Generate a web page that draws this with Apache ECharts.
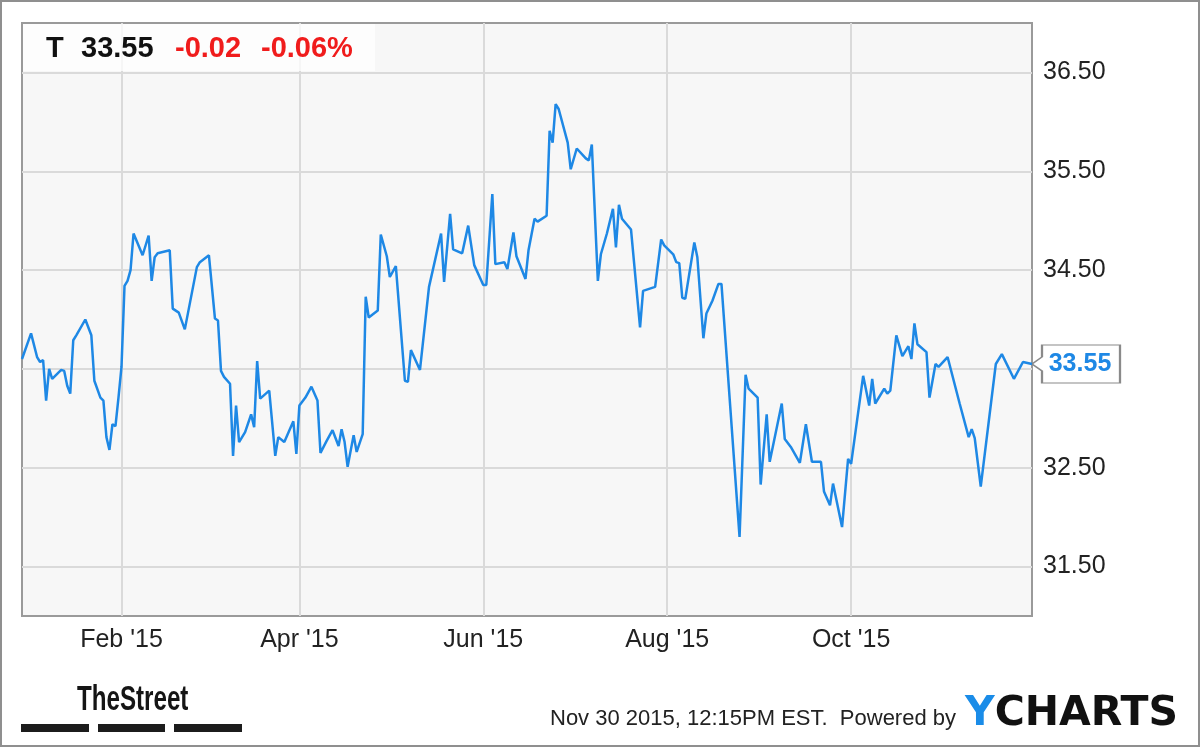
<!DOCTYPE html>
<html><head><meta charset="utf-8">
<script src="https://cdn.jsdelivr.net/npm/echarts@6/dist/echarts.min.js"></script>
<style>html,body{margin:0;padding:0;background:#fff}#c{width:1200px;height:747px}</style>
</head><body><div id="c"></div>
<script>
// ---- data ----
const dates = [
'2014-12-30','2015-01-02','2015-01-04','2015-01-05','2015-01-06','2015-01-07','2015-01-08','2015-01-09','2015-01-10','2015-01-12',
'2015-01-13','2015-01-14','2015-01-15','2015-01-16','2015-01-17','2015-01-20','2015-01-22','2015-01-23','2015-01-25','2015-01-26',
'2015-01-27','2015-01-28','2015-01-29','2015-01-30','2015-01-31','2015-02-01','2015-02-02','2015-02-03','2015-02-04','2015-02-05',
'2015-02-08','2015-02-10','2015-02-11','2015-02-12','2015-02-13','2015-02-17','2015-02-18','2015-02-20','2015-02-22','2015-02-26',
'2015-02-27','2015-03-02','2015-03-04','2015-03-05','2015-03-06','2015-03-07','2015-03-09','2015-03-10','2015-03-11','2015-03-12',
'2015-03-14','2015-03-16','2015-03-17','2015-03-18','2015-03-19','2015-03-22','2015-03-24','2015-03-25','2015-03-27','2015-03-30',
'2015-03-31','2015-04-01','2015-04-03','2015-04-05','2015-04-07','2015-04-08','2015-04-10','2015-04-12','2015-04-14','2015-04-15',
'2015-04-16','2015-04-17','2015-04-19','2015-04-20','2015-04-22','2015-04-23','2015-04-24','2015-04-27','2015-04-28','2015-04-30',
'2015-05-01','2015-05-03','2015-05-06','2015-05-07','2015-05-08','2015-05-11','2015-05-14','2015-05-18','2015-05-19','2015-05-21',
'2015-05-22','2015-05-25','2015-05-27','2015-05-29','2015-06-01','2015-06-02','2015-06-04','2015-06-05','2015-06-08','2015-06-09',
'2015-06-11','2015-06-12','2015-06-15','2015-06-16','2015-06-18','2015-06-19','2015-06-22','2015-06-23','2015-06-24','2015-06-25',
'2015-06-26','2015-06-29','2015-06-30','2015-07-02','2015-07-05','2015-07-06','2015-07-07','2015-07-09','2015-07-10','2015-07-12',
'2015-07-14','2015-07-15','2015-07-16','2015-07-17','2015-07-20','2015-07-23','2015-07-24','2015-07-28','2015-07-30','2015-07-31',
'2015-08-03','2015-08-04','2015-08-05','2015-08-06','2015-08-07','2015-08-10','2015-08-11','2015-08-13','2015-08-14','2015-08-16',
'2015-08-18','2015-08-19','2015-08-25','2015-08-27','2015-08-28','2015-08-31','2015-09-01','2015-09-03','2015-09-04','2015-09-08',
'2015-09-09','2015-09-11','2015-09-14','2015-09-16','2015-09-18','2015-09-21','2015-09-22','2015-09-24','2015-09-25','2015-09-28',
'2015-09-30','2015-10-01','2015-10-05','2015-10-07','2015-10-08','2015-10-09','2015-10-12','2015-10-13','2015-10-14','2015-10-16',
'2015-10-18','2015-10-20','2015-10-21','2015-10-22','2015-10-23','2015-10-26','2015-10-27','2015-10-29','2015-10-30','2015-11-02',
'2015-11-06','2015-11-09','2015-11-10','2015-11-11','2015-11-13','2015-11-18','2015-11-20','2015-11-24','2015-11-27','2015-11-30'
];
const prices = [
33.60,33.86,33.62,33.57,33.59,33.18,33.50,33.40,33.43,33.49,
33.48,33.33,33.25,33.79,33.84,34.00,33.84,33.38,33.21,33.18,
32.81,32.68,32.94,32.92,33.21,33.52,34.34,34.39,34.50,34.87,
34.65,34.85,34.39,34.63,34.67,34.70,34.11,34.07,33.90,34.53,
34.58,34.65,34.01,33.99,33.48,33.42,33.35,32.62,33.13,32.76,
32.86,33.04,32.91,33.58,33.20,33.28,32.62,32.81,32.76,32.97,
32.64,33.13,33.21,33.32,33.18,32.65,32.77,32.88,32.72,32.89,
32.76,32.51,32.83,32.66,32.84,34.23,34.02,34.09,34.86,34.64,
34.43,34.54,33.38,33.37,33.69,33.49,34.33,34.87,34.38,35.07,
34.71,34.67,34.95,34.55,34.35,34.35,35.27,34.56,34.58,34.51,
34.88,34.64,34.41,34.70,35.02,34.99,35.05,35.91,35.79,36.18,
36.13,35.79,35.52,35.73,35.63,35.61,35.77,34.39,34.66,34.87,
35.12,34.73,35.16,35.02,34.91,33.92,34.29,34.33,34.81,34.75,
34.66,34.58,34.57,34.22,34.21,34.78,34.63,33.81,34.06,34.19,
34.36,34.36,31.80,33.44,33.30,33.21,32.33,33.04,32.56,33.15,
32.79,32.71,32.55,32.94,32.56,32.56,32.26,32.12,32.34,31.90,
32.59,32.54,33.43,33.13,33.40,33.15,33.30,33.25,33.28,33.84,
33.63,33.73,33.60,33.96,33.75,33.67,33.21,33.55,33.52,33.62,
33.15,32.81,32.89,32.80,32.31,33.55,33.65,33.40,33.57,33.55
];
const xStart = '2014-12-30';
const xEnd = '2015-11-30';
const xTickDates = ['2015-02-01','2015-04-01','2015-06-01','2015-08-01','2015-10-01'];
const monthNames = ['Jan','Feb','Mar','Apr','May','Jun','Jul','Aug','Sep','Oct','Nov','Dec'];
const yMin = 31, yMax = 37;
const yTickValues = [31.5, 32.5, 33.5, 34.5, 35.5, 36.5];
const yLabelValues = [31.5, 32.5, 34.5, 35.5, 36.5];
const ticker = 'T';
const lastPrice = '33.55';
const change = '-0.02';
const changePct = '-0.06%';
const footerText = 'Nov 30 2015, 12:15PM EST.  Powered by';

// ---- chart ----
function toTs(s) { const p = s.split('-').map(Number); return Date.UTC(p[0], p[1] - 1, p[2]); }
const seriesData = dates.map((d, i) => [toTs(d), prices[i]]);
const xTicks = xTickDates.map(toTs);
const FONT = '"Liberation Sans", Arial, Helvetica, sans-serif';
const BLUE = '#1e88e5';

const chart = echarts.init(document.getElementById('c'), null, { renderer: 'canvas' });
chart.setOption({
  animation: false,
  backgroundColor: '#fff',
  grid: {
    left: 22, right: 168, top: 23, bottom: 131,
    show: true, backgroundColor: '#f7f7f7', borderColor: '#9a9a9a', borderWidth: 2
  },
  xAxis: {
    type: 'value',
    min: toTs(xStart), max: toTs(xEnd),
    axisLine: { show: false },
    axisTick: { show: false, customValues: xTicks },
    axisLabel: {
      customValues: xTicks, margin: 12, color: '#222', fontSize: 25, fontFamily: FONT,
      formatter: function (v) { const d = new Date(v); return monthNames[d.getUTCMonth()] + " '" + String(d.getUTCFullYear()).slice(2); }
    },
    splitLine: { show: true, lineStyle: { color: '#dadada', width: 2 } }
  },
  yAxis: {
    type: 'value', position: 'right',
    min: yMin, max: yMax,
    axisLine: { show: false },
    axisTick: { show: false, customValues: yTickValues },
    axisLabel: {
      customValues: yLabelValues, margin: 11, color: '#222', fontSize: 25, fontFamily: FONT,
      formatter: function (v) { return Number(v).toFixed(2); }
    },
    splitLine: { show: true, lineStyle: { color: '#dadada', width: 2 } }
  },
  series: [{
    type: 'line',
    data: seriesData,
    showSymbol: false,
    clip: false,
    lineStyle: { color: BLUE, width: 2.5 },
    itemStyle: { color: BLUE },
    z: 5,
    markPoint: {
      silent: true,
      symbol: 'path://M10 0H88V38H10V26L0 19L10 12Z',
      symbolSize: [88, 38],
      symbolOffset: [44, 0],
      itemStyle: { color: '#fff', borderColor: '#8a8a8a', borderWidth: 1.5 },
      label: { show: true, position: 'inside', offset: [4, 0], formatter: lastPrice, color: BLUE, fontWeight: 'bold', fontSize: 25, fontFamily: FONT },
      data: [{ coord: [toTs(dates[dates.length - 1]), prices[prices.length - 1]] }]
    }
  }],
  graphic: [
    { type: 'rect', z: 100, silent: true, shape: { x: 1, y: 1, width: 1198, height: 745 }, style: { fill: 'none', stroke: '#8f8f8f', lineWidth: 2 } },
    { type: 'rect', z: 100, silent: true, shape: { x: 23, y: 24, width: 352, height: 47 }, style: { fill: 'rgba(255,255,255,0.75)' } },
    { type: 'text', z: 101, x: 46, y: 49, style: { text: ticker, font: 'bold 29px ' + FONT, fill: '#111', verticalAlign: 'middle' } },
    { type: 'text', z: 101, x: 81, y: 49, style: { text: lastPrice, font: 'bold 29px ' + FONT, fill: '#111', verticalAlign: 'middle' } },
    { type: 'text', z: 101, x: 175, y: 49, style: { text: change, font: 'bold 29px ' + FONT, fill: '#f01c1c', verticalAlign: 'middle' } },
    { type: 'text', z: 101, x: 261, y: 49, style: { text: changePct, font: 'bold 29px ' + FONT, fill: '#f01c1c', verticalAlign: 'middle' } },
    { type: 'text', z: 101, x: 77, y: 700, scaleX: 0.69, style: { text: 'TheStreet', font: 'bold 35px ' + FONT, fill: '#151515', verticalAlign: 'middle' } },
    { type: 'rect', z: 101, shape: { x: 21, y: 724, width: 68, height: 8 }, style: { fill: '#1c1c1c' } },
    { type: 'rect', z: 101, shape: { x: 98, y: 724, width: 67, height: 8 }, style: { fill: '#1c1c1c' } },
    { type: 'rect', z: 101, shape: { x: 174, y: 724, width: 68, height: 8 }, style: { fill: '#1c1c1c' } },
    { type: 'text', z: 101, x: 550, y: 719, style: { text: footerText, font: '22px ' + FONT, fill: '#222', verticalAlign: 'middle' } },
    { type: 'text', z: 101, x: 965, y: 714, style: {
        text: '{y|Y}{c|CHARTS}', verticalAlign: 'middle',
        rich: {
          y: { fill: '#1a8ce8', font: 'bold 41px "DejaVu Sans", sans-serif' },
          c: { fill: '#111', font: 'bold 41px "DejaVu Sans", sans-serif' }
        }
    } }
  ]
});
</script>
</body></html>
